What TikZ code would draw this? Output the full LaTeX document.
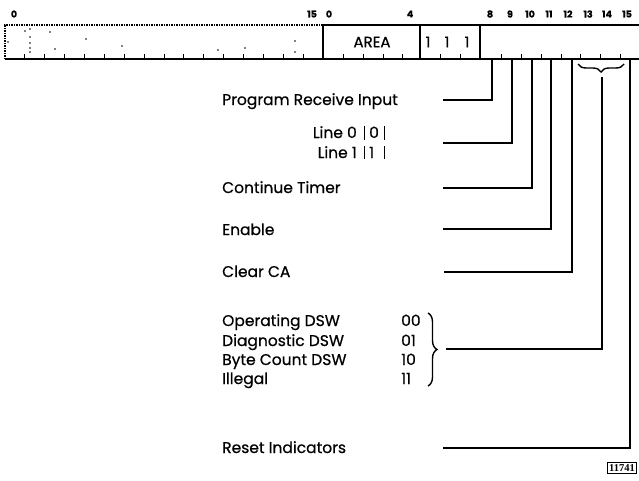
\documentclass[tikz,border=0pt]{standalone}
\usepackage{fontspec}
\setmainfont{Poppins}[FakeBold=0.6]
\newfontfamily\tagfont{Liberation Serif}
\usetikzlibrary{decorations.pathreplacing}

\begin{document}
\begin{tikzpicture}[x=1pt, y=-1pt,
  lbl/.style={anchor=base west, inner sep=0pt, font=\fontsize{15.5}{17}\selectfont},
  bitnum/.style={inner sep=0pt, font=\bfseries\fontsize{9.5}{10}\selectfont},
  fld/.style={inner sep=0pt, font=\fontsize{15}{17}\selectfont},
  reg/.style={line width=1.5pt},
  wire/.style={line width=1.4pt},
  tick/.style={line width=0.9pt}
]
\useasboundingbox (0,0) rectangle (639,480);

% register
\draw[reg, densely dotted] (5,59) -- (5,25) -- (323,25);
\draw[reg] (5,59) -- (639,59);
\draw[reg] (323,25) -- (639,25);
\draw[reg] (323,25) -- (323,59);
\draw[reg] (420,25) -- (420,59);
\draw[reg] (480,25) -- (480,59);
\foreach \i in {1,...,15}
  \draw[tick] ({5+\i*19.875},59) -- ++(0,-5);
\foreach \x in {343,363,383,402,440,460,501,521,541,561,580,600,620}
  \draw[tick] (\x,59) -- ++(0,-5);
\foreach \p in {(25,31),(30,29),(50,32),(30,37),(30,43),(30,48),(30,52),(86,39),
               (122,46),(55,49),(218,50),(245,48),(295,41),(295,52),(8,42)}
  \fill \p circle (0.8);

% bit numbers
\node[bitnum] (n0) at (14,14) {0};
\node[bitnum] (n15) at (312,14) {15};
\node[bitnum] (m0) at (329,14) {0};
\node[bitnum] (m4) at (410,14) {4};
\foreach \b/\x in {8/490,9/510,10/530,11/549,12/568,13/588,14/607,15/627}
  \node[bitnum] (m\b) at (\x,14) {\b};

\node[fld] (area) at (372,42) {AREA};
\node[fld] (one5) at (428,42) {1};
\node[fld] (one6) at (447,42) {1};
\node[fld] (one7) at (467,42) {1};

% bit taps
\coordinate (b8) at (492,60);
\coordinate (b9) at (512,60);
\coordinate (b10) at (532,60);
\coordinate (b11) at (551,60);
\coordinate (b12) at (572,60);
\coordinate (b15) at (630,60);
\draw[wire, decorate, decoration={brace, amplitude=8pt}] (624,64) -- (578,64);
\coordinate (b1314) at (602,77);

% labels
\node[lbl] (pri) at (222,105) {Program Receive Input};
\node[lbl, anchor=base east] (ln0) at (357,138) {Line 0};
\node[lbl, anchor=base east] (ln1) at (357,158) {Line 1};
\node[lbl] (v0) at (369,138) {0};
\node[lbl] (v1) at (369,158) {1};
\draw[tick] (364,126) -- (364,140) (364,146) -- (364,159);
\draw[tick] (384,126) -- (384,140) (384,146) -- (384,159);
\node[lbl] (ct) at (222,193) {Continue Timer};
\node[lbl] (en) at (222,235) {Enable};
\node[lbl] (cca) at (222,277) {Clear CA};
\node[lbl] (ods) at (222,326) {Operating DSW};
\node[lbl] (dds) at (222,346) {Diagnostic DSW};
\node[lbl] (bds) at (222,365) {Byte Count DSW};
\node[lbl] (ill) at (222,384) {Illegal};
\node[lbl] (c00) at (401,326) {00};
\node[lbl] (c01) at (401,346) {01};
\node[lbl] (c10) at (401,365) {10};
\node[lbl] (c11) at (401,384) {11};
\draw[wire, decorate, decoration={brace, amplitude=9pt}] (428,313) -- (428,386);
\node[lbl] (rst) at (222,453) {Reset Indicators};

% wires
\coordinate (w8) at (443,100);
\coordinate (w9) at (443,143);
\coordinate (w10) at (443,188);
\coordinate (w11) at (443,229);
\coordinate (w12) at (444,272);
\coordinate (w1314) at (446,349);
\coordinate (w15) at (443,448);
\draw[wire] (w8) -| (b8);
\draw[wire] (w9) -| (b9);
\draw[wire] (w10) -| (b10);
\draw[wire] (w11) -| (b11);
\draw[wire] (w12) -| (b12);
\draw[wire] (w1314) -| (b1314);
\draw[wire] (w15) -| (b15);

\node[draw, line width=0.9pt, inner sep=1.8pt, font=\tagfont\bfseries\fontsize{10.5}{11}\selectfont]
  (tag) at (622,468) {11741};
\end{tikzpicture}
\end{document}
